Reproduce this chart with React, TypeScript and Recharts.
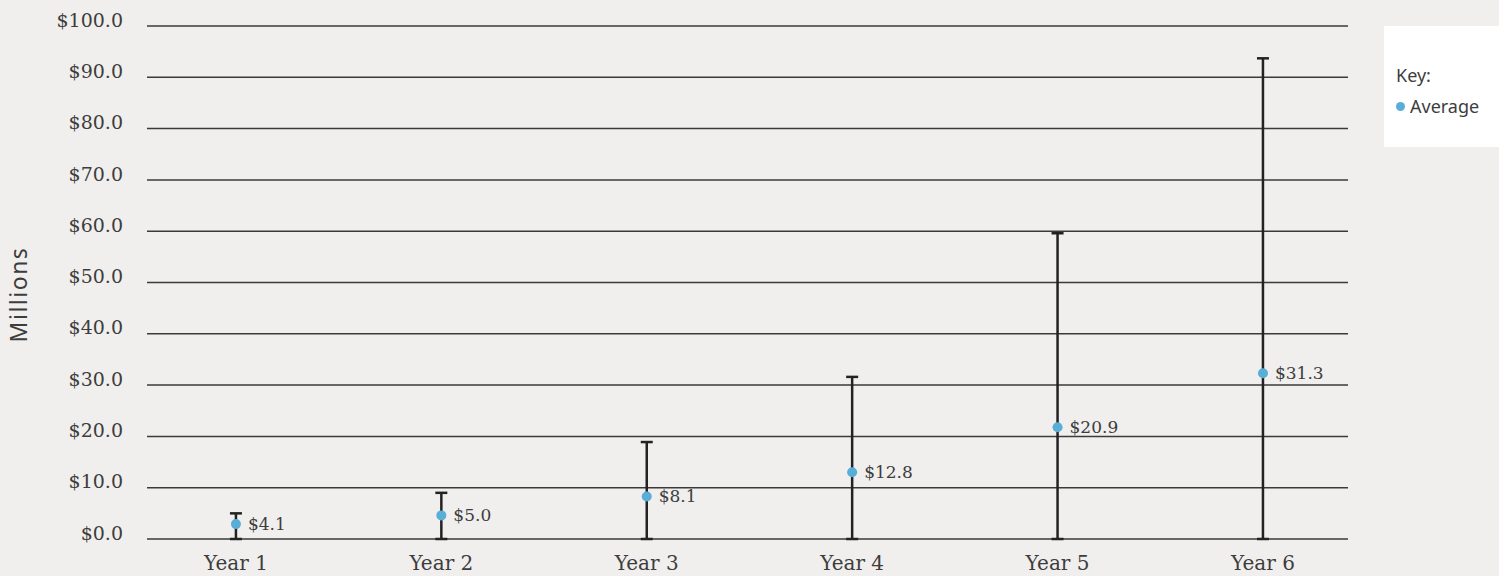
import React from 'react';
import { ScatterChart, Scatter, XAxis, YAxis, CartesianGrid, ErrorBar, LabelList, Legend } from 'recharts';

const categories = ['Year 1', 'Year 2', 'Year 3', 'Year 4', 'Year 5', 'Year 6'];
const averagePlotted = [2.9, 4.6, 8.3, 13.0, 21.8, 32.3];
const averageLabels = ['$4.1', '$5.0', '$8.1', '$12.8', '$20.9', '$31.3'];
const minimum = [0, 0, 0, 0, 0, 0];
const maximum = [5.0, 9.0, 18.9, 31.6, 59.6, 93.7];
const yTicks = [0, 10, 20, 30, 40, 50, 60, 70, 80, 90, 100];

const data = categories.map((c, i) => ({
  x: i + 1,
  name: c,
  avg: averagePlotted[i],
  label: averageLabels[i],
  err: [averagePlotted[i] - minimum[i], maximum[i] - averagePlotted[i]],
}));

const SERIF = '"DejaVu Serif", serif';
const SANS = '"Noto Sans", "Open Sans", sans-serif';
const TEXT = '#3d3d3d';
const BLUE = '#58aed6';

const Dot = (props: any) => <circle cx={props.cx} cy={props.cy} r={5} fill={BLUE} />;

const renderLabel = (props: any) => {
  const { x, y, width, height, value } = props;
  const cx = x + (width || 0) / 2;
  const cy = y + (height || 0) / 2;
  return (
    <text x={cx + 12} y={cy} dy="0.35em" fill={TEXT} fontFamily={SERIF} fontSize={17} textAnchor="start">
      {value}
    </text>
  );
};

const XTick = (props: any) => {
  const { x, y, payload } = props;
  return (
    <text x={x} y={y + 31} textAnchor="middle" fill={TEXT} fontFamily={SERIF} fontSize={20}>
      {categories[payload.value - 1]}
    </text>
  );
};

const YTick = (props: any) => {
  const { x, y, payload } = props;
  return (
    <text x={x} y={y - 6} dy="0.35em" textAnchor="end" fill={TEXT} fontFamily={SERIF} fontSize={19}>
      {`$${Number(payload.value).toFixed(1)}`}
    </text>
  );
};

const renderLegend = () => (
  <div
    style={{
      width: 115,
      height: 121,
      background: '#ffffff',
      boxSizing: 'border-box',
      paddingLeft: 12,
      paddingTop: 34,
      fontFamily: SANS,
      fontSize: 18,
      color: TEXT,
      lineHeight: '31px',
      textAlign: 'left',
    }}
  >
    <div>Key:</div>
    <div style={{ display: 'flex', alignItems: 'center' }}>
      <span style={{ width: 9, height: 9, borderRadius: '50%', background: BLUE, display: 'inline-block', marginRight: 5, marginLeft: 0 }} />
      <span>Average</span>
    </div>
  </div>
);

const YLabel = (props: any) => {
  const vb = props.viewBox || { x: 0, y: 0, height: 0 };
  const x = 19;
  const y = vb.y + vb.height / 2 + 12;
  return (
    <text x={x} y={y} transform={`rotate(-90 ${x} ${y})`} textAnchor="middle" dy="0.35em" fill={TEXT} fontFamily={SANS} fontSize={23} letterSpacing={1.5}>
      Millions
    </text>
  );
};

export default function App() {
  return (
    <div style={{ position: 'absolute', left: 0, top: 0, width: 1499, height: 576, background: '#f0efed' }}>
      <ScatterChart width={1499} height={576} margin={{ top: 26, right: 151, bottom: 0, left: 0 }}>
        <CartesianGrid vertical={false} stroke="#3a3a3a" strokeWidth={1.5} />
        <XAxis
          type="number"
          dataKey="x"
          domain={[0.567, 6.414]}
          allowDataOverflow
          ticks={[1, 2, 3, 4, 5, 6]}
          axisLine={false}
          tickLine={false}
          tickSize={0}
          tickMargin={0}
          height={37}
          interval={0}
          tick={<XTick />}
        />
        <YAxis
          type="number"
          dataKey="avg"
          domain={[0, 100]}
          ticks={yTicks}
          interval={0}
          axisLine={false}
          tickLine={false}
          tickSize={0}
          tickMargin={24}
          width={147}
          tick={<YTick />}
          label={<YLabel />}
        />
        <Legend
          layout="horizontal"
          verticalAlign="middle"
          align="center"
          content={renderLegend}
          wrapperStyle={{ position: 'absolute', left: 1384, top: 26, width: 115, height: 121 }}
        />
        <Scatter data={data} dataKey="avg" name="Average" fill={BLUE} shape={<Dot />} isAnimationActive={false}>
          <ErrorBar dataKey="err" direction="y" width={6} stroke="#222222" strokeWidth={2.5} />
          <LabelList dataKey="label" content={renderLabel} />
        </Scatter>
      </ScatterChart>
    </div>
  );
}
